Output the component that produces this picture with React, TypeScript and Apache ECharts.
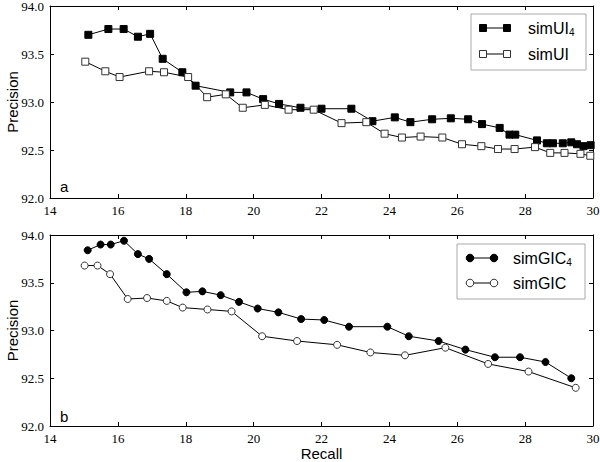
import React, { useEffect, useRef } from "react";
import * as echarts from "echarts";

const xTicks = [14, 16, 18, 20, 22, 24, 26, 28, 30];
const yTicks = [92.0, 92.5, 93.0, 93.5, 94.0];

const simUI4X = [15.13, 15.72, 16.17, 16.59, 16.95, 17.32, 17.9, 18.29, 19.31, 19.79, 20.28, 20.75, 21.38, 22.0, 22.88, 23.5, 24.16, 24.62, 25.26, 25.81, 26.32, 26.73, 27.25, 27.54, 27.71, 28.35, 28.64, 28.82, 29.11, 29.36, 29.53, 29.72, 29.93];
const simUI4Y = [93.7, 93.76, 93.76, 93.68, 93.71, 93.45, 93.31, 93.17, 93.1, 93.1, 93.03, 92.98, 92.94, 92.93, 92.93, 92.8, 92.84, 92.79, 92.82, 92.83, 92.82, 92.77, 92.73, 92.66, 92.66, 92.6, 92.57, 92.57, 92.57, 92.58, 92.56, 92.54, 92.55];

const simUIX = [15.04, 15.63, 16.05, 16.92, 17.36, 18.07, 18.63, 19.18, 19.68, 20.33, 21.03, 21.77, 22.59, 23.32, 23.86, 24.37, 24.92, 25.56, 26.14, 26.71, 27.2, 27.69, 28.29, 28.74, 29.16, 29.63, 29.92];
const simUIY = [93.42, 93.32, 93.26, 93.32, 93.31, 93.26, 93.05, 93.08, 92.94, 92.97, 92.92, 92.92, 92.78, 92.79, 92.67, 92.63, 92.64, 92.63, 92.56, 92.54, 92.51, 92.51, 92.53, 92.47, 92.47, 92.46, 92.44];

const simGIC4X = [15.11, 15.49, 15.79, 16.18, 16.59, 16.92, 17.44, 18.02, 18.49, 19.03, 19.57, 20.12, 20.73, 21.4, 22.08, 22.81, 23.94, 24.57, 25.45, 26.24, 27.11, 27.85, 28.6, 29.36];
const simGIC4Y = [93.84, 93.9, 93.9, 93.94, 93.8, 93.75, 93.59, 93.4, 93.41, 93.37, 93.3, 93.23, 93.19, 93.12, 93.11, 93.04, 93.04, 92.94, 92.89, 92.8, 92.72, 92.72, 92.67, 92.5];

const simGICX = [15.02, 15.4, 15.77, 16.29, 16.86, 17.44, 17.91, 18.64, 19.35, 20.25, 21.28, 22.46, 23.44, 24.46, 25.65, 26.91, 28.1, 29.49];
const simGICY = [93.68, 93.68, 93.59, 93.33, 93.34, 93.31, 93.24, 93.22, 93.2, 92.94, 92.89, 92.85, 92.77, 92.74, 92.82, 92.65, 92.57, 92.4];

const seriesNames = ["simUI4", "simUI", "simGIC4", "simGIC"];

const zip = (xs: number[], ys: number[]) => xs.map((x, i) => [x, ys[i]]);

const SERIF = "Liberation Serif";
const SANS = "Liberation Sans";

export default function App() {
  const ref = useRef<HTMLDivElement>(null);
  useEffect(() => {
    document.body.style.margin = "0";
    const chart = echarts.init(ref.current!, null, { renderer: "svg" });

    const labelStyle = { fontFamily: SERIF, fontSize: 13, color: "#000", fontWeight: "normal" };

    const xBase = (gridIndex: number, showLabels: boolean, name?: string) => ({
      type: "value",
      gridIndex,
      min: xTicks[0],
      max: xTicks[xTicks.length - 1],
      interval: 2,
      position: "bottom",
      name: name || "",
      nameLocation: "middle",
      nameGap: 20,
      nameMoveOverlap: false,
      nameTextStyle: { fontFamily: SANS, fontSize: 15, color: "#000" },
      axisLine: { show: true, onZero: false, lineStyle: { color: "#000", width: 1 } },
      axisTick: { show: true, inside: true, length: 4, lineStyle: { color: "#000" } },
      axisLabel: { show: showLabels, ...labelStyle, margin: 6 },
      splitLine: { show: false },
    });
    const xTop = (gridIndex: number) => ({
      ...xBase(gridIndex, false),
      position: "top",
    });
    const yBase = (gridIndex: number) => ({
      type: "value",
      gridIndex,
      min: yTicks[0],
      max: yTicks[yTicks.length - 1],
      interval: 0.5,
      position: "left",
      name: "Precision",
      nameLocation: "middle",
      nameGap: 30,
      nameMoveOverlap: false,
      nameRotate: 90,
      nameTextStyle: { fontFamily: SANS, fontSize: 15, color: "#000" },
      axisLine: { show: true, onZero: false, lineStyle: { color: "#000", width: 1 } },
      axisTick: { show: true, inside: true, length: 4, lineStyle: { color: "#000" } },
      axisLabel: {
        show: true,
        ...labelStyle,
        margin: 6,
        formatter: (v: number) => v.toFixed(1),
      },
      splitLine: { show: false },
    });
    const yRight = (gridIndex: number) => ({
      ...yBase(gridIndex),
      position: "right",
      name: "",
      axisLabel: { show: false },
    });

    const mkSeries = (
      name: string,
      data: number[][],
      axisIdx: number,
      symbol: string,
      filled: boolean
    ) => ({
      type: "line",
      name,
      data,
      xAxisIndex: axisIdx,
      yAxisIndex: axisIdx,
      symbol,
      symbolSize: 7,
      showAllSymbol: true,
      lineStyle: { color: "#000", width: 1 },
      itemStyle: filled
        ? { color: "#000", borderColor: "#000", borderWidth: 1 }
        : { color: "#fff", borderColor: "#333", borderWidth: 1 },
      emphasis: { disabled: true },
    });

    const legendEntry = (
      x1: number,
      x2: number,
      y: number,
      tx: number,
      shape: "rect" | "circle",
      filled: boolean,
      label: string,
      sub: string
    ) => {
      const fill = filled ? "#000" : "#fff";
      const stroke = filled ? "#000" : "#333";
      const mk = (cx: number) =>
        shape === "rect"
          ? { type: "rect", shape: { x: cx - 3.5, y: y - 3.5, width: 7, height: 7 }, style: { fill, stroke, lineWidth: 1 } }
          : { type: "circle", shape: { cx, cy: y, r: 3.8 }, style: { fill, stroke, lineWidth: 1 } };
      return [
        { type: "line", shape: { x1, y1: y, x2, y2: y }, style: { stroke: "#000", lineWidth: 1 } },
        mk(x1),
        mk(x2),
        {
          type: "text",
          x: tx,
          y,
          style: {
            text: sub ? `{a|${label}}{s|${sub}}` : `{a|${label}}`,
            verticalAlign: "middle",
            rich: {
              a: { fontFamily: SANS, fontSize: 16, fill: "#000", lineHeight: 18 },
              s: { fontFamily: SANS, fontSize: 10, fill: "#000", verticalAlign: "bottom", lineHeight: 12, padding: [6, 0, 0, 0] },
            },
          },
        },
      ];
    };

    chart.setOption({
      animation: false,
      backgroundColor: "#fff",
      grid: [
        { left: 50, right: 7, top: 6, height: 192, outerBoundsMode: "none" },
        { left: 50, right: 7, top: 235, height: 191, outerBoundsMode: "none" },
      ],
      xAxis: [xBase(0, true), xBase(1, true, "Recall"), xTop(0), xTop(1)],
      yAxis: [yBase(0), yBase(1), yRight(0), yRight(1)],
      series: [
        mkSeries(seriesNames[0], zip(simUI4X, simUI4Y), 0, "rect", true),
        mkSeries(seriesNames[1], zip(simUIX, simUIY), 0, "rect", false),
        mkSeries(seriesNames[2], zip(simGIC4X, simGIC4Y), 1, "circle", true),
        mkSeries(seriesNames[3], zip(simGICX, simGICY), 1, "circle", false),
      ],
      graphic: [
        { type: "text", x: 60, y: 194, style: { text: "a", fontFamily: SANS, fontSize: 15, fill: "#000", verticalAlign: "bottom" } },
        { type: "text", x: 60, y: 424, style: { text: "b", fontFamily: SANS, fontSize: 15, fill: "#000", verticalAlign: "bottom" } },
        { type: "rect", shape: { x: 471, y: 14, width: 115, height: 56 }, style: { fill: "#fff", stroke: "#aaa", lineWidth: 1 }, z: 100 },
        ...legendEntry(483, 507, 28, 528, "rect", true, "simUI", "4").map((e) => ({ ...e, z: 101 })),
        ...legendEntry(483, 507, 54, 528, "rect", false, "simUI", "").map((e) => ({ ...e, z: 101 })),
        { type: "rect", shape: { x: 457, y: 244, width: 128, height: 55 }, style: { fill: "#fff", stroke: "#aaa", lineWidth: 1 }, z: 100 },
        ...legendEntry(470, 494, 258, 513, "circle", true, "simGIC", "4").map((e) => ({ ...e, z: 101 })),
        ...legendEntry(470, 494, 283, 513, "circle", false, "simGIC", "").map((e) => ({ ...e, z: 101 })),
      ],
    });
    return () => chart.dispose();
  }, []);
  return <div ref={ref} style={{ width: 600, height: 462 }} />;
}
